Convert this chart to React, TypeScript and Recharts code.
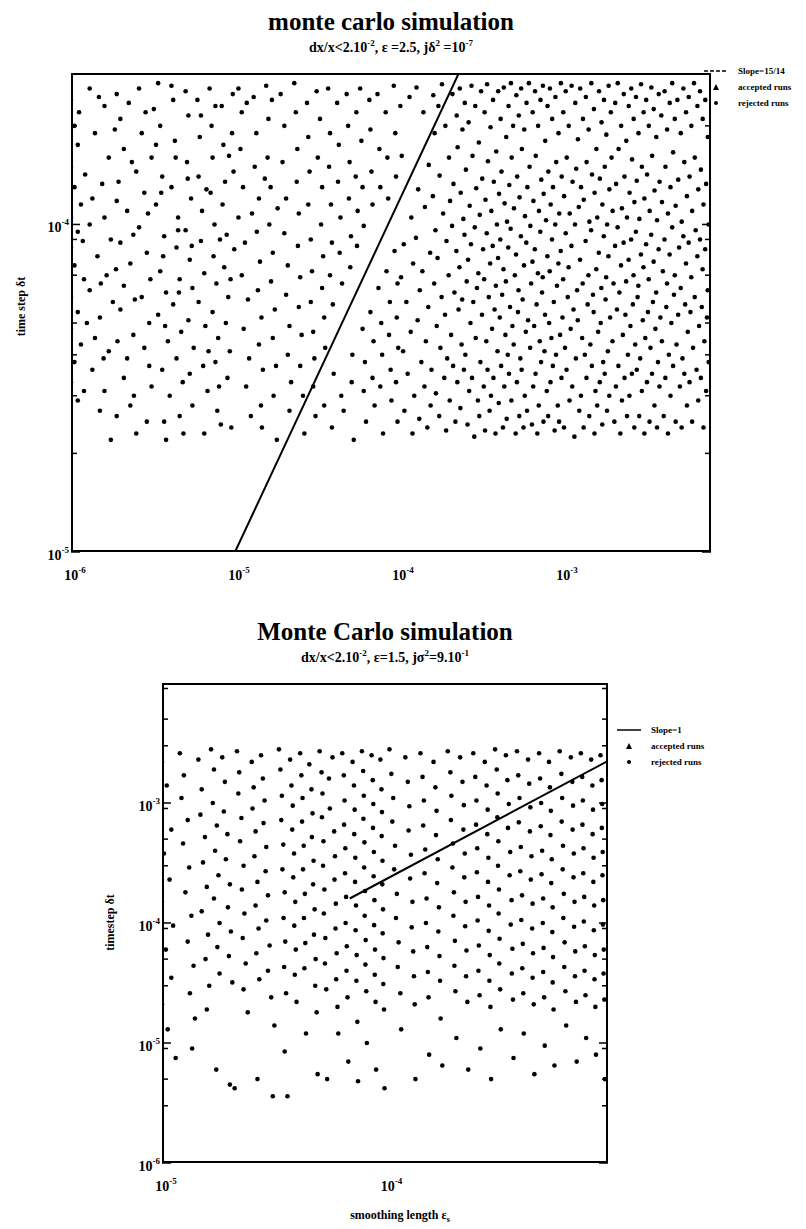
import React from "react";
import { ScatterChart, Scatter, XAxis, YAxis } from "recharts";

const serif = "'Liberation Serif', 'Times New Roman', serif";

// ---------- upper panel ----------
const topXTicks = [1e-6, 1e-5, 1e-4, 1e-3];
const topYTicks = [1e-5, 1e-4];
const topXDomain = [1e-6, 8e-3];
const topYDomain = [1e-5, 2.9e-4];
const topSlopeLine = [
  [1e-5, 1e-5],
  [2.32e-4, 2.9e-4],
];
const topRunsLeft = [
  [1.0e-6,2.4e-4],[1.05e-6,2.0e-4],[1.1e-6,1.75e-4],[1.0e-6,1.5e-4],[1.05e-6,1.3e-4],[1.15e-6,1.15e-4],[1.0e-6,1.05e-4],[1.1e-6,9.5e-5],[1.0e-6,8.5e-5],[1.05e-6,7.5e-5],[1.2e-6,6.8e-5],[1.0e-6,6.0e-5],[1.1e-6,5.4e-5],[1.0e-6,4.8e-5],[1.15e-6,4.3e-5],[1.05e-6,3.8e-5],[1.0e-6,3.3e-5],[1.1e-6,2.9e-5],[1.3e-6,2.6e-4],[1.4e-6,1.9e-4],[1.35e-6,1.2e-4],[1.3e-6,1.0e-4],[1.45e-6,8.0e-5],[1.3e-6,6.3e-5],[1.5e-6,5.2e-5],[1.4e-6,4.5e-5],[1.35e-6,3.6e-5],[1.5e-6,2.7e-5],[1.6e-6,2.3e-4],[1.7e-6,1.6e-4],[1.6e-6,1.05e-4],[1.75e-6,9.0e-5],[1.65e-6,7.0e-5],[1.8e-6,5.8e-5],[1.7e-6,4.1e-5],[1.6e-6,3.1e-5],[1.75e-6,2.2e-5],
  [1.12e-6,2.2e-4],[1.22e-6,1.42e-4],[1.18e-6,8.9e-5],[1.25e-6,5.0e-5],[1.2e-6,3.1e-5],[1.48e-6,2.45e-4],[1.55e-6,1.33e-4],[1.52e-6,6.6e-5],[1.58e-6,3.9e-5],[1.85e-6,1.95e-4],[1.9e-6,1.18e-4],[1.88e-6,7.3e-5],[1.92e-6,4.4e-5],[1.9e-6,2.6e-5],
  [1.9e-6,2.5e-4],[2.0e-6,2.1e-4],[2.1e-6,1.7e-4],[1.95e-6,1.35e-4],[2.2e-6,1.1e-4],[2.0e-6,8.8e-5],[2.3e-6,7.6e-5],[2.1e-6,6.5e-5],[2.0e-6,5.5e-5],[2.4e-6,4.6e-5],[2.2e-6,3.9e-5],[2.1e-6,3.4e-5],[2.3e-6,2.8e-5],[2.5e-6,2.3e-5],[2.6e-6,2.6e-4],[2.7e-6,1.9e-4],[2.5e-6,1.45e-4],[2.8e-6,1.25e-4],[2.6e-6,9.8e-5],[2.9e-6,8.2e-5],[2.7e-6,6.0e-5],[3.0e-6,5.0e-5],[2.8e-6,4.2e-5],[3.1e-6,3.2e-5],[2.9e-6,2.5e-5],[3.2e-6,2.25e-4],[3.1e-6,1.6e-4],
  [2.25e-6,2.35e-4],[2.35e-6,1.55e-4],[2.4e-6,9.3e-5],[2.45e-6,5.9e-5],[2.42e-6,3.0e-5],[2.85e-6,2.2e-4],[2.95e-6,1.08e-4],[3.05e-6,6.8e-5],[3.0e-6,3.7e-5],
  [3.4e-6,2.7e-4],[3.5e-6,2.0e-4],[3.6e-6,1.4e-4],[3.3e-6,1.15e-4],[3.7e-6,9.2e-5],[3.5e-6,7.2e-5],[3.8e-6,6.2e-5],[3.4e-6,5.3e-5],[3.9e-6,4.4e-5],[3.6e-6,3.6e-5],[4.0e-6,3.0e-5],[3.8e-6,2.2e-5],[4.2e-6,2.4e-4],[4.3e-6,1.8e-4],[4.1e-6,1.3e-4],[4.5e-6,1.05e-4],[4.4e-6,8.5e-5],[4.6e-6,6.8e-5],[4.2e-6,5.7e-5],[4.7e-6,4.7e-5],[4.4e-6,3.9e-5],[4.8e-6,3.3e-5],[4.6e-6,2.6e-5],[5.0e-6,2.55e-4],[5.2e-6,2.15e-4],[5.1e-6,1.55e-4],[5.4e-6,1.2e-4],[5.0e-6,9.6e-5],[5.3e-6,7.8e-5],[5.5e-6,6.4e-5],[5.2e-6,5.1e-5],[5.6e-6,4.2e-5],[5.3e-6,3.5e-5],[5.5e-6,2.8e-5],
  [3.3e-6,1.75e-4],[3.55e-6,1.25e-4],[3.65e-6,8.0e-5],[3.75e-6,4.9e-5],[3.7e-6,2.5e-5],[4.1e-6,2.65e-4],[4.35e-6,1.6e-4],[4.5e-6,9.6e-5],[4.55e-6,6.2e-5],[4.85e-6,2.3e-5],[5.15e-6,1.38e-4],[5.45e-6,8.6e-5],
  [5.9e-6,2.4e-4],[6.1e-6,1.85e-4],[6.0e-6,1.4e-4],[6.3e-6,1.1e-4],[6.2e-6,8.9e-5],[6.5e-6,7.1e-5],[6.0e-6,5.8e-5],[6.6e-6,4.9e-5],[6.4e-6,3.7e-5],[6.8e-6,3.1e-5],[6.5e-6,2.3e-5],[7.0e-6,2.6e-4],[7.2e-6,2.0e-4],[7.3e-6,1.6e-4],[7.1e-6,1.25e-4],[7.5e-6,1.0e-4],[7.4e-6,8.0e-5],[7.7e-6,6.6e-5],[7.3e-6,5.4e-5],[7.9e-6,4.5e-5],[7.6e-6,3.8e-5],[8.0e-6,3.2e-5],[7.8e-6,2.7e-5],[8.3e-6,2.3e-4],[8.5e-6,1.75e-4],[8.7e-6,1.35e-4],[8.4e-6,1.15e-4],[8.9e-6,9.3e-5],[8.6e-6,7.4e-5],[9.1e-6,6.0e-5],[8.8e-6,5.0e-5],[9.3e-6,4.1e-5],[9.0e-6,3.4e-5],[9.5e-6,2.4e-5],[9.7e-6,2.5e-4],[9.6e-6,1.9e-4],[9.8e-6,1.45e-4],[9.9e-6,8.4e-5],
  [6.2e-6,2.15e-4],[6.7e-6,1.28e-4],[6.9e-6,4.1e-5],[7.6e-6,2.3e-4],[8.1e-6,9.0e-5],[8.2e-6,2.45e-5],[9.2e-6,1.62e-4],[9.4e-6,6.8e-5],
  [1.05e-5,2.6e-4],[1.1e-5,2.2e-4],[1.08e-5,1.7e-4],[1.12e-5,1.3e-4],[1.05e-5,1.05e-4],[1.15e-5,8.8e-5],[1.1e-5,7.0e-5],[1.2e-5,5.9e-5],[1.13e-5,4.8e-5],[1.22e-5,3.9e-5],[1.17e-5,3.2e-5],[1.25e-5,2.6e-5],[1.3e-5,2.45e-4],[1.35e-5,1.9e-4],[1.32e-5,1.5e-4],[1.4e-5,1.2e-4],[1.36e-5,9.5e-5],[1.42e-5,7.7e-5],[1.38e-5,6.3e-5],[1.45e-5,5.2e-5],[1.4e-5,4.3e-5],[1.48e-5,3.6e-5],[1.44e-5,2.8e-5],[1.55e-5,2.65e-4],[1.6e-5,2.1e-4],[1.58e-5,1.6e-4],[1.65e-5,1.3e-4],[1.62e-5,1.0e-4],[1.7e-5,8.2e-5],[1.66e-5,6.7e-5],[1.75e-5,5.5e-5],[1.7e-5,4.5e-5],[1.78e-5,3.7e-5],[1.72e-5,3.0e-5],[1.8e-5,2.2e-5],
  [1.18e-5,2.35e-4],[1.27e-5,1.08e-4],[1.46e-5,2.4e-5],[1.52e-5,1.38e-4],[1.68e-5,2.4e-4],[1.82e-5,1.12e-4],
  [1.9e-5,2.5e-4],[2.0e-5,2.0e-4],[1.95e-5,1.55e-4],[2.05e-5,1.2e-4],[2.0e-5,9.4e-5],[2.1e-5,7.5e-5],[2.05e-5,6.1e-5],[2.15e-5,4.9e-5],[2.1e-5,4.0e-5],[2.2e-5,3.3e-5],[2.15e-5,2.7e-5],[2.3e-5,2.7e-4],[2.35e-5,2.2e-4],[2.4e-5,1.7e-4],[2.38e-5,1.35e-4],[2.45e-5,1.08e-4],[2.42e-5,8.6e-5],[2.5e-5,6.9e-5],[2.45e-5,5.6e-5],[2.55e-5,4.6e-5],[2.5e-5,3.7e-5],[2.6e-5,3.0e-5],[2.65e-5,2.3e-5],[2.75e-5,2.35e-4],[2.8e-5,1.85e-4],[2.85e-5,1.45e-4],[2.8e-5,1.15e-4],[2.9e-5,9.0e-5],[2.95e-5,7.2e-5],[2.9e-5,5.8e-5],[3.0e-5,4.7e-5],[3.05e-5,3.9e-5],[3.0e-5,3.2e-5],[3.1e-5,2.6e-5],[3.15e-5,2.55e-4],[3.2e-5,1.6e-4],
  [3.3e-5,2.1e-4],[3.4e-5,1.3e-4],[3.35e-5,1.0e-4],[3.45e-5,8.0e-5],[3.4e-5,6.4e-5],[3.5e-5,5.2e-5],[3.55e-5,4.2e-5],[3.5e-5,2.8e-5],[3.7e-5,2.6e-4],[3.8e-5,1.9e-4],[3.75e-5,1.5e-4],[3.85e-5,1.15e-4],[3.9e-5,8.8e-5],[3.8e-5,7.0e-5],[3.95e-5,5.7e-5],[4.0e-5,3.5e-5],[3.9e-5,2.4e-5],[4.2e-5,2.35e-4],[4.3e-5,1.75e-4],[4.25e-5,1.35e-4],[4.4e-5,1.05e-4],[4.35e-5,8.2e-5],[4.5e-5,6.6e-5],[4.45e-5,3.0e-5],[4.6e-5,2.7e-5],[4.8e-5,2.5e-4],[4.9e-5,2.0e-4],[5.0e-5,1.55e-4],[4.95e-5,1.2e-4],[5.1e-5,9.2e-5],[5.05e-5,7.4e-5],[5.2e-5,4.0e-5],[5.15e-5,3.3e-5],[5.3e-5,2.2e-5],[5.5e-5,2.2e-4],[5.45e-5,1.4e-4],[5.6e-5,1.1e-4],[5.55e-5,8.6e-5],
  [5.8e-5,2.6e-4],[5.9e-5,1.8e-4],[6.0e-5,1.3e-4],[6.1e-5,9.9e-5],[6.0e-5,4.8e-5],[6.2e-5,3.8e-5],[6.1e-5,3.1e-5],[6.3e-5,2.5e-5],[6.6e-5,2.4e-4],[6.7e-5,1.95e-4],[6.8e-5,1.45e-4],[6.9e-5,1.15e-4],[6.7e-5,5.4e-5],[7.0e-5,4.4e-5],[6.9e-5,3.4e-5],[7.1e-5,2.8e-5],[7.4e-5,2.5e-4],[7.6e-5,1.7e-4],[7.7e-5,1.3e-4],[7.5e-5,6.4e-5],[7.8e-5,5.0e-5],[7.9e-5,4.0e-5],[7.7e-5,3.2e-5],[8.0e-5,2.3e-5],[8.3e-5,2.2e-4],[8.5e-5,1.6e-4],[8.6e-5,1.2e-4],[8.4e-5,7.2e-5],[8.8e-5,5.8e-5],[8.7e-5,4.6e-5],[8.9e-5,3.6e-5],[9.0e-5,2.9e-5],[9.3e-5,2.65e-4],[9.5e-5,1.9e-4],[9.6e-5,1.4e-4],[9.4e-5,8.3e-5],[9.8e-5,6.6e-5],[9.7e-5,5.2e-5],[9.9e-5,4.2e-5],[9.6e-5,3.3e-5],[9.8e-5,2.5e-5],
];
const topRunsRight = [
  [1.02e-4,2.3e-4],[1.04e-4,1.62e-4],[1.07e-4,8.7e-5],[1.03e-4,6.9e-5],[1.11e-4,5.8e-5],[1.06e-4,4.1e-5],[1.13e-4,3.5e-5],[1.08e-4,2.7e-5],[1.16e-4,2.45e-4],[1.19e-4,1.05e-4],[1.22e-4,7.6e-5],[1.18e-4,4.7e-5],[1.24e-4,3.0e-5],[1.21e-4,2.3e-5],
  [1.28e-4,2.62e-4],[1.31e-4,1.28e-4],[1.27e-4,9.1e-5],[1.34e-4,6.3e-5],[1.3e-4,5.1e-5],[1.37e-4,3.8e-5],[1.33e-4,2.55e-5],[1.41e-4,2.2e-4],[1.44e-4,1.13e-4],[1.39e-4,7.2e-5],[1.46e-4,4.4e-5],[1.43e-4,3.2e-5],[1.49e-4,2.4e-5],[1.52e-4,1.52e-4],[1.55e-4,8.2e-5],[1.51e-4,5.6e-5],[1.58e-4,3.6e-5],[1.56e-4,2.8e-5],
  [1.62e-4,2.48e-4],[1.65e-4,1.9e-4],[1.61e-4,1.22e-4],[1.67e-4,9.6e-5],[1.64e-4,6.6e-5],[1.7e-4,4.9e-5],[1.68e-4,3.05e-5],[1.74e-4,2.3e-4],[1.77e-4,1.41e-4],[1.72e-4,7.9e-5],[1.79e-4,4.2e-5],[1.76e-4,2.6e-5],[1.83e-4,2.68e-4],[1.86e-4,1.08e-4],[1.82e-4,6.0e-5],[1.89e-4,3.4e-5],[1.92e-4,2.0e-4],[1.95e-4,8.9e-5],[1.91e-4,5.3e-5],[1.97e-4,3.9e-5],[1.94e-4,2.35e-5],
  [2.02e-4,1.6e-4],[2.05e-4,1.18e-4],[2.01e-4,7.0e-5],[2.08e-4,4.6e-5],[2.04e-4,2.9e-5],[2.12e-4,2.5e-4],[2.15e-4,1.33e-4],[2.11e-4,9.9e-5],[2.18e-4,6.2e-5],[2.14e-4,3.7e-5],[2.21e-4,2.5e-5],[2.25e-4,2.15e-4],[2.28e-4,1.72e-4],[2.24e-4,8.3e-5],[2.31e-4,5.5e-5],[2.27e-4,3.3e-5],[2.35e-4,2.6e-4],[2.38e-4,1.25e-4],[2.34e-4,7.4e-5],[2.41e-4,4.3e-5],[2.37e-4,2.75e-5],[2.44e-4,1.95e-4],[2.47e-4,1.04e-4],[2.43e-4,5.9e-5],[2.49e-4,3.6e-5],
  [2.52e-4,2.35e-4],[2.56e-4,1.47e-4],[2.51e-4,9.3e-5],[2.59e-4,6.7e-5],[2.54e-4,4.0e-5],[2.62e-4,2.45e-5],[2.66e-4,2.05e-4],[2.7e-4,1.14e-4],[2.64e-4,7.8e-5],[2.73e-4,5.0e-5],[2.68e-4,3.1e-5],[2.77e-4,2.65e-4],[2.81e-4,1.62e-4],[2.75e-4,8.7e-5],[2.84e-4,5.8e-5],[2.79e-4,3.4e-5],[2.88e-4,2.25e-5],[2.92e-4,2.3e-4],[2.96e-4,1.29e-4],[2.9e-4,9.8e-5],[2.99e-4,6.4e-5],[2.94e-4,4.5e-5],[3.03e-4,2.9e-5],[3.07e-4,1.78e-4],[3.11e-4,1.07e-4],[3.05e-4,7.1e-5],[3.14e-4,3.8e-5],[3.09e-4,2.6e-5],[3.17e-4,2.55e-4],
  [3.22e-4,1.38e-4],[3.26e-4,8.4e-5],[3.21e-4,5.3e-5],[3.29e-4,3.2e-5],[3.33e-4,2.2e-4],[3.37e-4,1.19e-4],[3.31e-4,6.8e-5],[3.41e-4,4.4e-5],[3.35e-4,2.35e-5],[3.45e-4,2.68e-4],[3.49e-4,1.56e-4],[3.43e-4,9.4e-5],[3.53e-4,6.0e-5],[3.47e-4,3.6e-5],[3.57e-4,2.7e-5],[3.62e-4,1.98e-4],[3.66e-4,1.1e-4],[3.6e-4,7.6e-5],[3.7e-4,4.8e-5],[3.64e-4,3.0e-5],[3.75e-4,2.4e-4],[3.79e-4,1.35e-4],[3.73e-4,8.6e-5],[3.83e-4,5.5e-5],[3.77e-4,3.4e-5],[3.88e-4,2.3e-5],[3.92e-4,1.67e-4],[3.96e-4,1.0e-4],[3.9e-4,6.5e-5],[3.99e-4,4.1e-5],
  [4.03e-4,2.55e-4],[4.08e-4,1.24e-4],[4.02e-4,7.9e-5],[4.12e-4,5.2e-5],[4.06e-4,2.85e-5],[4.17e-4,2.1e-4],[4.22e-4,1.45e-4],[4.15e-4,9.0e-5],[4.26e-4,6.1e-5],[4.2e-4,3.7e-5],[4.31e-4,2.4e-5],[4.36e-4,2.62e-4],[4.41e-4,1.16e-4],[4.34e-4,7.3e-5],[4.46e-4,4.6e-5],[4.39e-4,3.2e-5],[4.51e-4,1.85e-4],[4.56e-4,1.02e-4],[4.49e-4,6.7e-5],[4.61e-4,4.0e-5],[4.54e-4,2.55e-5],[4.66e-4,2.3e-4],[4.71e-4,1.32e-4],[4.64e-4,8.5e-5],[4.76e-4,5.6e-5],[4.69e-4,3.5e-5],[4.82e-4,2.7e-4],[4.87e-4,1.6e-4],[4.8e-4,9.7e-5],[4.92e-4,4.9e-5],[4.85e-4,2.9e-5],[4.97e-4,2.0e-4],
  [5.03e-4,1.12e-4],[5.09e-4,7.0e-5],[5.01e-4,4.3e-5],[5.15e-4,2.3e-5],[5.2e-4,2.48e-4],[5.26e-4,1.4e-4],[5.18e-4,8.1e-5],[5.32e-4,5.4e-5],[5.24e-4,3.3e-5],[5.38e-4,2.15e-4],[5.44e-4,1.21e-4],[5.36e-4,6.3e-5],[5.5e-4,3.9e-5],[5.42e-4,2.6e-5],[5.56e-4,2.6e-4],[5.62e-4,1.7e-4],[5.54e-4,9.2e-5],[5.68e-4,5.9e-5],[5.6e-4,3.6e-5],[5.75e-4,2.4e-5],[5.81e-4,1.95e-4],[5.87e-4,1.06e-4],[5.79e-4,7.5e-5],[5.94e-4,4.7e-5],[5.85e-4,3.0e-5],[6.0e-4,2.35e-4],[6.07e-4,1.3e-4],[5.98e-4,8.8e-5],[6.13e-4,5.1e-5],[6.04e-4,2.7e-5],[6.2e-4,2.7e-4],[6.26e-4,1.5e-4],
  [6.33e-4,9.9e-5],[6.4e-4,6.6e-5],[6.31e-4,4.2e-5],[6.47e-4,2.45e-5],[6.54e-4,2.2e-4],[6.61e-4,1.18e-4],[6.52e-4,7.7e-5],[6.68e-4,4.9e-5],[6.59e-4,3.2e-5],[6.76e-4,2.55e-4],[6.83e-4,1.62e-4],[6.74e-4,8.4e-5],[6.91e-4,5.7e-5],[6.81e-4,3.5e-5],[6.98e-4,2.3e-5],[7.06e-4,2.0e-4],[7.14e-4,1.1e-4],[7.04e-4,7.1e-5],[7.22e-4,4.4e-5],[7.12e-4,2.8e-5],[7.3e-4,2.4e-4],[7.38e-4,1.37e-4],[7.28e-4,9.5e-5],[7.46e-4,6.2e-5],[7.36e-4,3.8e-5],[7.55e-4,2.65e-4],[7.63e-4,1.24e-4],[7.53e-4,6.9e-5],[7.72e-4,4.1e-5],[7.61e-4,2.5e-5],[7.8e-4,1.8e-4],[7.89e-4,1.03e-4],[7.78e-4,5.3e-5],[7.97e-4,3.1e-5],
  [8.06e-4,2.3e-4],[8.15e-4,1.45e-4],[8.04e-4,8.0e-5],[8.24e-4,5.0e-5],[8.13e-4,2.6e-5],[8.33e-4,2.6e-4],[8.42e-4,1.15e-4],[8.31e-4,7.2e-5],[8.51e-4,4.5e-5],[8.4e-4,3.3e-5],[8.6e-4,2.1e-4],[8.7e-4,1.3e-4],[8.58e-4,9.0e-5],[8.8e-4,5.8e-5],[8.68e-4,3.7e-5],[8.9e-4,2.35e-5],[9.0e-4,2.45e-4],[9.1e-4,1.55e-4],[8.98e-4,1.0e-4],[9.2e-4,6.5e-5],[9.08e-4,4.0e-5],[9.3e-4,2.8e-5],[9.4e-4,1.9e-4],[9.5e-4,1.08e-4],[9.38e-4,7.6e-5],[9.61e-4,4.6e-5],[9.48e-4,2.5e-5],[9.72e-4,2.7e-4],[9.83e-4,1.4e-4],[9.7e-4,8.3e-5],[9.94e-4,5.2e-5],[9.8e-4,3.4e-5],
  [1.005e-3,2.2e-4],[1.017e-3,1.22e-4],[1.003e-3,6.8e-5],[1.03e-3,4.2e-5],[1.015e-3,2.4e-5],[1.04e-3,2.55e-4],[1.055e-3,1.6e-4],[1.04e-3,9.4e-5],[1.07e-3,6.0e-5],[1.052e-3,3.6e-5],[1.085e-3,2.0e-4],[1.1e-3,1.08e-4],[1.083e-3,7.4e-5],[1.115e-3,4.8e-5],[1.097e-3,2.9e-5],[1.13e-3,2.65e-4],[1.145e-3,1.35e-4],[1.128e-3,8.6e-5],[1.16e-3,5.5e-5],[1.14e-3,3.2e-5],[1.175e-3,2.25e-5],[1.19e-3,2.35e-4],[1.205e-3,1.48e-4],[1.185e-3,1.0e-4],[1.22e-3,6.3e-5],[1.2e-3,3.9e-5],[1.235e-3,1.82e-4],[1.25e-3,1.13e-4],[1.232e-3,5.1e-5],[1.258e-3,2.7e-5],
  [1.275e-3,2.6e-4],[1.29e-3,1.3e-4],[1.272e-3,7.8e-5],[1.31e-3,4.5e-5],[1.288e-3,3.0e-5],[1.325e-3,2.1e-4],[1.34e-3,1.19e-4],[1.32e-3,6.6e-5],[1.36e-3,4.0e-5],[1.338e-3,2.4e-5],[1.38e-3,2.45e-4],[1.395e-3,1.55e-4],[1.375e-3,8.9e-5],[1.415e-3,5.7e-5],[1.392e-3,3.4e-5],[1.435e-3,1.95e-4],[1.45e-3,1.02e-4],[1.43e-3,7.0e-5],[1.47e-3,4.3e-5],[1.448e-3,2.6e-5],[1.49e-3,2.7e-4],[1.505e-3,1.42e-4],[1.485e-3,9.6e-5],[1.525e-3,6.1e-5],[1.502e-3,3.7e-5],[1.545e-3,2.25e-4],[1.56e-3,1.25e-4],[1.54e-3,5.4e-5],[1.58e-3,3.1e-5],[1.558e-3,2.3e-5],
  [1.6e-3,1.7e-4],[1.62e-3,1.05e-4],[1.598e-3,7.3e-5],[1.64e-3,4.7e-5],[1.618e-3,2.8e-5],[1.66e-3,2.55e-4],[1.68e-3,1.38e-4],[1.655e-3,8.2e-5],[1.7e-3,5.0e-5],[1.678e-3,3.3e-5],[1.72e-3,2.05e-4],[1.74e-3,1.15e-4],[1.715e-3,6.4e-5],[1.76e-3,3.8e-5],[1.738e-3,2.45e-5],[1.78e-3,2.4e-4],[1.8e-3,1.5e-4],[1.775e-3,9.2e-5],[1.82e-3,5.9e-5],[1.798e-3,3.5e-5],[1.84e-3,1.88e-4],[1.86e-3,1.0e-4],[1.835e-3,6.9e-5],[1.88e-3,4.1e-5],[1.858e-3,2.7e-5],[1.9e-3,2.65e-4],[1.92e-3,1.28e-4],[1.895e-3,8.0e-5],[1.94e-3,5.2e-5],[1.918e-3,3.0e-5],[1.96e-3,2.2e-4],[1.98e-3,1.6e-4],
  [2.01e-3,1.1e-4],[2.035e-3,6.6e-5],[2.005e-3,4.4e-5],[2.06e-3,2.5e-5],[2.085e-3,2.35e-4],[2.11e-3,1.33e-4],[2.08e-3,8.6e-5],[2.135e-3,5.5e-5],[2.105e-3,3.2e-5],[2.16e-3,2.7e-4],[2.185e-3,1.7e-4],[2.155e-3,9.8e-5],[2.21e-3,6.2e-5],[2.18e-3,3.7e-5],[2.24e-3,2.3e-5],[2.265e-3,2.0e-4],[2.29e-3,1.12e-4],[2.26e-3,7.5e-5],[2.32e-3,4.6e-5],[2.29e-3,2.9e-5],[2.35e-3,2.5e-4],[2.375e-3,1.4e-4],[2.345e-3,8.8e-5],[2.405e-3,5.3e-5],[2.375e-3,3.4e-5],[2.435e-3,1.8e-4],[2.46e-3,1.05e-4],[2.43e-3,6.7e-5],[2.49e-3,4.0e-5],[2.46e-3,2.6e-5],
  [2.52e-3,2.3e-4],[2.55e-3,1.25e-4],[2.515e-3,7.8e-5],[2.58e-3,4.9e-5],[2.545e-3,3.0e-5],[2.61e-3,2.6e-4],[2.64e-3,1.58e-4],[2.605e-3,9.0e-5],[2.67e-3,5.7e-5],[2.635e-3,3.5e-5],[2.7e-3,2.1e-4],[2.73e-3,1.17e-4],[2.695e-3,7.0e-5],[2.76e-3,4.3e-5],[2.725e-3,2.4e-5],[2.79e-3,2.45e-4],[2.82e-3,1.36e-4],[2.785e-3,9.5e-5],[2.855e-3,6.0e-5],[2.82e-3,3.6e-5],[2.89e-3,1.9e-4],[2.925e-3,1.04e-4],[2.885e-3,6.5e-5],[2.96e-3,3.9e-5],[2.92e-3,2.6e-5],[2.995e-3,2.68e-4],[3.03e-3,1.5e-4],[2.99e-3,8.1e-5],[3.07e-3,5.1e-5],[3.03e-3,3.1e-5],[3.105e-3,2.2e-4],[3.14e-3,1.2e-4],[3.1e-3,7.4e-5],[3.18e-3,4.5e-5],[3.14e-3,2.3e-5],
  [3.22e-3,2.4e-4],[3.26e-3,1.42e-4],[3.215e-3,8.7e-5],[3.3e-3,5.4e-5],[3.255e-3,3.3e-5],[3.34e-3,2.0e-4],[3.38e-3,1.1e-4],[3.335e-3,6.8e-5],[3.42e-3,4.2e-5],[3.375e-3,2.5e-5],[3.46e-3,2.62e-4],[3.5e-3,1.62e-4],[3.455e-3,9.3e-5],[3.54e-3,5.8e-5],[3.495e-3,3.5e-5],[3.58e-3,2.25e-4],[3.62e-3,1.27e-4],[3.575e-3,7.7e-5],[3.665e-3,4.8e-5],[3.615e-3,2.8e-5],[3.71e-3,1.85e-4],[3.75e-3,1.03e-4],[3.705e-3,6.2e-5],[3.8e-3,3.8e-5],[3.75e-3,2.4e-5],[3.84e-3,2.5e-4],[3.885e-3,1.35e-4],[3.835e-3,8.4e-5],[3.93e-3,5.2e-5],[3.88e-3,3.2e-5],[3.98e-3,2.15e-4],
  [4.02e-3,1.17e-4],[4.07e-3,7.2e-5],[4.015e-3,4.4e-5],[4.12e-3,2.6e-5],[4.17e-3,2.55e-4],[4.22e-3,1.5e-4],[4.165e-3,9.0e-5],[4.27e-3,5.6e-5],[4.215e-3,3.4e-5],[4.32e-3,1.95e-4],[4.37e-3,1.08e-4],[4.315e-3,6.6e-5],[4.425e-3,4.0e-5],[4.37e-3,2.3e-5],[4.48e-3,2.35e-4],[4.53e-3,1.3e-4],[4.475e-3,8.1e-5],[4.585e-3,5.0e-5],[4.53e-3,3.0e-5],[4.64e-3,2.7e-4],[4.7e-3,1.66e-4],[4.64e-3,9.8e-5],[4.755e-3,6.1e-5],[4.7e-3,3.7e-5],[4.81e-3,2.1e-4],[4.87e-3,1.14e-4],[4.81e-3,7.0e-5],[4.93e-3,4.3e-5],[4.87e-3,2.5e-5],[4.99e-3,2.4e-4],
  [5.05e-3,1.37e-4],[5.11e-3,8.5e-5],[5.045e-3,5.3e-5],[5.17e-3,3.2e-5],[5.235e-3,1.9e-4],[5.3e-3,1.02e-4],[5.23e-3,6.4e-5],[5.36e-3,3.9e-5],[5.295e-3,2.4e-5],[5.43e-3,2.6e-4],[5.5e-3,1.55e-4],[5.425e-3,9.2e-5],[5.565e-3,5.7e-5],[5.5e-3,3.5e-5],[5.635e-3,2.2e-4],[5.705e-3,1.22e-4],[5.63e-3,7.6e-5],[5.775e-3,4.7e-5],[5.705e-3,2.8e-5],[5.85e-3,2.45e-4],[5.92e-3,1.4e-4],[5.845e-3,8.8e-5],[5.995e-3,5.4e-5],[5.92e-3,3.3e-5],[6.07e-3,2.0e-4],[6.14e-3,1.1e-4],[6.065e-3,6.9e-5],[6.22e-3,4.2e-5],[6.14e-3,2.5e-5],[6.3e-3,2.7e-4],
  [6.37e-3,1.6e-4],[6.45e-3,9.6e-5],[6.365e-3,6.0e-5],[6.53e-3,3.6e-5],[6.61e-3,2.3e-4],[6.69e-3,1.28e-4],[6.605e-3,8.0e-5],[6.77e-3,4.9e-5],[6.69e-3,2.9e-5],[6.86e-3,2.55e-4],[6.94e-3,1.47e-4],[6.855e-3,9.0e-5],[7.03e-3,5.6e-5],[6.94e-3,3.4e-5],[7.12e-3,2.1e-4],[7.2e-3,1.15e-4],[7.11e-3,7.3e-5],[7.29e-3,4.4e-5],[7.2e-3,2.4e-5],[7.38e-3,2.4e-4],[7.47e-3,1.33e-4],[7.37e-3,8.4e-5],[7.56e-3,5.2e-5],[7.47e-3,3.1e-5],[7.65e-3,1.85e-4],[7.74e-3,1.0e-4],[7.64e-3,6.3e-5],[7.74e-3,3.8e-5],
];

// ---------- lower panel ----------
const botXTicks = [1e-5, 1e-4];
const botYTicks = [1e-6, 1e-5, 1e-4, 1e-3];
const botXDomain = [1e-5, 9.5e-4];
const botYDomain = [1e-6, 1e-2];
const botSlopeLine = [
  [6.8e-5, 1.6e-4],
  [9.5e-4, 2.24e-3],
];
const botRuns = [
  [1.0e-5,2.2e-3],[1.05e-5,1.4e-3],[1.0e-5,9.0e-4],[1.1e-5,6.0e-4],[1.02e-5,3.8e-4],[1.08e-5,2.3e-4],[1.0e-5,1.5e-4],[1.12e-5,9.5e-5],[1.04e-5,6.0e-5],[1.1e-5,3.5e-5],[1.0e-5,2.1e-5],[1.06e-5,1.3e-5],[1.15e-5,7.5e-6],[1.2e-5,2.6e-3],[1.25e-5,1.7e-3],[1.22e-5,1.1e-3],[1.3e-5,7.2e-4],[1.24e-5,4.6e-4],[1.32e-5,2.9e-4],[1.27e-5,1.8e-4],[1.35e-5,1.15e-4],[1.3e-5,7.0e-5],[1.38e-5,4.4e-5],[1.33e-5,2.6e-5],[1.4e-5,1.6e-5],[1.36e-5,9.0e-6],[1.45e-5,2.3e-3],[1.5e-5,1.3e-3],[1.48e-5,8.0e-4],[1.55e-5,5.2e-4],[1.52e-5,3.2e-4],[1.58e-5,2.0e-4],[1.5e-5,1.25e-4],[1.6e-5,8.0e-5],[1.56e-5,5.0e-5],[1.62e-5,3.0e-5],[1.58e-5,1.9e-5],[1.65e-5,2.8e-3],[1.7e-5,1.9e-3],[1.68e-5,1.0e-3],[1.75e-5,6.5e-4],[1.72e-5,4.0e-4],[1.78e-5,2.5e-4],[1.7e-5,1.6e-4],[1.8e-5,1.0e-4],[1.76e-5,6.3e-5],[1.8e-5,3.8e-5],[1.74e-5,6.0e-6],
  [1.85e-5,2.4e-3],[1.9e-5,1.5e-3],[1.88e-5,8.5e-4],[1.95e-5,5.5e-4],[1.92e-5,3.4e-4],[2.0e-5,2.1e-4],[1.96e-5,1.35e-4],[2.02e-5,8.5e-5],[1.98e-5,5.3e-5],[2.05e-5,3.2e-5],[2.0e-5,4.5e-6],[2.1e-5,4.2e-6],[2.15e-5,2.7e-3],[2.2e-5,1.8e-3],[2.18e-5,1.2e-3],[2.25e-5,7.5e-4],[2.22e-5,4.8e-4],[2.3e-5,3.0e-4],[2.26e-5,1.9e-4],[2.32e-5,1.2e-4],[2.28e-5,7.5e-5],[2.35e-5,4.6e-5],[2.3e-5,2.8e-5],[2.4e-5,1.8e-5],[2.5e-5,2.2e-3],[2.55e-5,1.35e-3],[2.52e-5,9.0e-4],[2.6e-5,5.8e-4],[2.57e-5,3.6e-4],[2.65e-5,2.2e-4],[2.6e-5,1.4e-4],[2.68e-5,9.0e-5],[2.62e-5,5.6e-5],[2.7e-5,3.4e-5],[2.65e-5,5.0e-6],[2.75e-5,2.5e-3],[2.8e-5,1.6e-3],[2.85e-5,1.05e-3],[2.82e-5,6.8e-4],[2.9e-5,4.3e-4],[2.88e-5,2.7e-4],[2.95e-5,1.7e-4],[2.9e-5,1.05e-4],[3.0e-5,6.5e-5],[2.95e-5,4.0e-5],[3.05e-5,2.4e-5],[3.1e-5,3.6e-6],[3.15e-5,1.4e-5],
  [3.3e-5,2.8e-3],[3.35e-5,1.9e-3],[3.4e-5,1.15e-3],[3.38e-5,7.2e-4],[3.45e-5,4.5e-4],[3.42e-5,2.8e-4],[3.5e-5,1.8e-4],[3.46e-5,1.1e-4],[3.52e-5,7.0e-5],[3.48e-5,4.3e-5],[3.55e-5,2.6e-5],[3.5e-5,8.5e-6],[3.6e-5,3.6e-6],[3.7e-5,2.3e-3],[3.75e-5,1.4e-3],[3.8e-5,9.5e-4],[3.78e-5,6.0e-4],[3.85e-5,3.8e-4],[3.82e-5,2.4e-4],[3.9e-5,1.5e-4],[3.86e-5,9.5e-5],[3.92e-5,6.0e-5],[3.88e-5,3.7e-5],[3.95e-5,2.2e-5],[4.1e-5,2.6e-3],[4.15e-5,1.7e-3],[4.2e-5,1.1e-3],[4.18e-5,7.0e-4],[4.25e-5,4.4e-4],[4.22e-5,2.8e-4],[4.3e-5,1.75e-4],[4.26e-5,1.1e-4],[4.32e-5,6.8e-5],[4.28e-5,4.2e-5],[4.35e-5,1.2e-5],[4.5e-5,2.1e-3],[4.6e-5,1.3e-3],[4.65e-5,8.2e-4],[4.62e-5,5.2e-4],[4.7e-5,3.3e-4],[4.68e-5,2.1e-4],[4.75e-5,1.3e-4],[4.72e-5,8.0e-5],[4.8e-5,5.0e-5],[4.78e-5,3.0e-5],[4.85e-5,1.8e-5],[4.9e-5,5.5e-6],[5.0e-5,2.7e-3],[5.1e-5,1.8e-3],[5.15e-5,1.2e-3],[5.12e-5,7.6e-4],[5.2e-5,4.8e-4],[5.18e-5,3.0e-4],[5.25e-5,1.9e-4],[5.22e-5,1.2e-4],[5.3e-5,7.5e-5],[5.28e-5,4.6e-5],[5.35e-5,2.8e-5],[5.4e-5,5.0e-6],[5.5e-5,1.6e-3],[5.55e-5,9.0e-4],
  [5.7e-5,2.4e-3],[5.8e-5,5.8e-4],[5.85e-5,3.6e-4],[5.82e-5,2.3e-4],[5.9e-5,1.45e-4],[5.88e-5,9.0e-5],[5.95e-5,5.6e-5],[5.92e-5,3.4e-5],[6.0e-5,2.0e-5],[6.05e-5,1.2e-5],[6.3e-5,2.6e-3],[6.4e-5,1.7e-3],[6.45e-5,1.05e-3],[6.42e-5,6.6e-4],[6.5e-5,4.2e-4],[6.48e-5,2.6e-4],[6.55e-5,1.65e-4],[6.52e-5,1.0e-4],[6.6e-5,6.4e-5],[6.58e-5,4.0e-5],[6.65e-5,2.4e-5],[6.7e-5,7.0e-6],[7.0e-5,2.2e-3],[7.1e-5,1.4e-3],[7.15e-5,8.8e-4],[7.12e-5,5.5e-4],[7.2e-5,3.5e-4],[7.18e-5,2.2e-4],[7.25e-5,1.4e-4],[7.22e-5,8.7e-5],[7.3e-5,5.4e-5],[7.28e-5,3.3e-5],[7.35e-5,1.5e-5],[7.4e-5,4.8e-6],[7.7e-5,2.7e-3],[7.8e-5,1.85e-3],[7.85e-5,1.15e-3],[7.82e-5,7.4e-4],[7.9e-5,4.7e-4],[7.88e-5,2.9e-4],[7.95e-5,1.85e-4],[7.92e-5,1.15e-4],[8.0e-5,7.2e-5],[7.98e-5,4.5e-5],[8.05e-5,2.7e-5],[8.1e-5,1.0e-5],[8.5e-5,2.5e-3],[8.6e-5,1.55e-3],[8.65e-5,9.8e-4],[8.62e-5,6.2e-4],[8.7e-5,3.9e-4],[8.68e-5,2.45e-4],[8.75e-5,1.55e-4],[8.72e-5,9.6e-5],[8.8e-5,6.0e-5],[8.78e-5,3.7e-5],[8.85e-5,2.2e-5],[8.9e-5,6.0e-6],[9.3e-5,2.3e-3],[9.4e-5,1.3e-3],[9.45e-5,8.4e-4],[9.42e-5,5.3e-4],[9.5e-5,3.3e-4],[9.48e-5,2.1e-4],[9.55e-5,1.3e-4],[9.52e-5,8.2e-5],[9.6e-5,5.1e-5],[9.58e-5,3.1e-5],[9.65e-5,1.9e-5],[9.7e-5,4.2e-6],
  [1.02e-4,2.8e-3],[1.04e-4,1.75e-3],[1.06e-4,1.1e-3],[1.05e-4,7.0e-4],[1.08e-4,4.4e-4],[1.07e-4,2.8e-4],[1.1e-4,1.75e-4],[1.09e-4,1.1e-4],[1.12e-4,6.9e-5],[1.11e-4,4.3e-5],[1.14e-4,2.6e-5],[1.15e-4,1.3e-5],[1.2e-4,2.4e-3],[1.23e-4,1.5e-3],[1.25e-4,9.4e-4],[1.24e-4,5.9e-4],[1.27e-4,3.7e-4],[1.26e-4,2.35e-4],[1.29e-4,1.5e-4],[1.28e-4,9.2e-5],[1.3e-4,5.8e-5],[1.31e-4,3.6e-5],[1.32e-4,2.1e-5],[1.33e-4,5.0e-6],[1.4e-4,2.6e-3],[1.43e-4,1.65e-3],[1.45e-4,1.05e-3],[1.44e-4,6.5e-4],[1.47e-4,4.1e-4],[1.46e-4,2.6e-4],[1.49e-4,1.6e-4],[1.48e-4,1.0e-4],[1.5e-4,6.3e-5],[1.51e-4,3.9e-5],[1.52e-4,2.4e-5],[1.53e-4,8.0e-6],[1.6e-4,2.2e-3],[1.63e-4,1.35e-3],[1.65e-4,8.6e-4],[1.64e-4,5.4e-4],[1.67e-4,3.4e-4],[1.66e-4,2.15e-4],[1.69e-4,1.35e-4],[1.68e-4,8.5e-5],[1.7e-4,5.3e-5],[1.71e-4,3.3e-5],[1.72e-4,1.6e-5],[1.75e-4,6.5e-6],
  [1.85e-4,2.7e-3],[1.9e-4,1.8e-3],[1.92e-4,1.15e-3],[1.91e-4,7.2e-4],[1.95e-4,4.6e-4],[1.94e-4,2.9e-4],[1.97e-4,1.8e-4],[1.96e-4,1.15e-4],[1.99e-4,7.1e-5],[1.98e-4,4.4e-5],[2.0e-4,2.7e-5],[2.02e-4,1.1e-5],[2.1e-4,2.4e-3],[2.15e-4,1.5e-3],[2.18e-4,9.6e-4],[2.17e-4,6.0e-4],[2.2e-4,3.8e-4],[2.19e-4,2.4e-4],[2.22e-4,1.5e-4],[2.21e-4,9.4e-5],[2.24e-4,5.9e-5],[2.23e-4,3.6e-5],[2.26e-4,2.2e-5],[2.28e-4,6.0e-6],[2.4e-4,2.6e-3],[2.45e-4,1.65e-3],[2.48e-4,1.05e-3],[2.47e-4,6.6e-4],[2.5e-4,4.2e-4],[2.49e-4,2.65e-4],[2.52e-4,1.65e-4],[2.51e-4,1.05e-4],[2.54e-4,6.5e-5],[2.53e-4,4.0e-5],[2.56e-4,2.5e-5],[2.58e-4,9.0e-6],[2.7e-4,2.2e-3],[2.75e-4,1.4e-3],[2.78e-4,8.8e-4],[2.77e-4,5.5e-4],[2.8e-4,3.5e-4],[2.79e-4,2.2e-4],[2.82e-4,1.4e-4],[2.81e-4,8.6e-5],[2.84e-4,5.4e-5],[2.83e-4,3.3e-5],[2.86e-4,2.0e-5],[2.88e-4,5.0e-6],[3.0e-4,2.8e-3],[3.05e-4,1.9e-3],[3.08e-4,1.2e-3],[3.07e-4,7.6e-4],[3.1e-4,4.8e-4],[3.09e-4,3.0e-4],[3.12e-4,1.9e-4],[3.11e-4,1.2e-4],[3.14e-4,7.4e-5],[3.13e-4,4.6e-5],[3.16e-4,2.8e-5],[3.18e-4,1.3e-5],
  [3.35e-4,2.5e-3],[3.4e-4,1.55e-3],[3.45e-4,9.8e-4],[3.42e-4,6.2e-4],[3.5e-4,3.9e-4],[3.48e-4,2.5e-4],[3.55e-4,1.55e-4],[3.52e-4,9.7e-5],[3.58e-4,6.1e-5],[3.56e-4,3.8e-5],[3.6e-4,2.3e-5],[3.62e-4,7.5e-6],[3.75e-4,2.7e-3],[3.8e-4,1.7e-3],[3.85e-4,1.1e-3],[3.82e-4,6.9e-4],[3.9e-4,4.3e-4],[3.88e-4,2.7e-4],[3.95e-4,1.7e-4],[3.92e-4,1.06e-4],[3.98e-4,6.7e-5],[3.96e-4,4.2e-5],[4.0e-4,2.6e-5],[4.02e-4,1.2e-5],[4.2e-4,2.3e-3],[4.25e-4,1.45e-3],[4.3e-4,9.2e-4],[4.28e-4,5.8e-4],[4.35e-4,3.6e-4],[4.32e-4,2.3e-4],[4.4e-4,1.45e-4],[4.38e-4,9.0e-5],[4.42e-4,5.6e-5],[4.4e-4,3.5e-5],[4.45e-4,2.1e-5],[4.48e-4,5.5e-6],[4.7e-4,2.6e-3],[4.75e-4,1.6e-3],[4.8e-4,1.0e-3],[4.78e-4,6.4e-4],[4.85e-4,4.0e-4],[4.82e-4,2.55e-4],[4.9e-4,1.6e-4],[4.88e-4,1.0e-4],[4.92e-4,6.2e-5],[4.9e-4,3.9e-5],[4.95e-4,2.4e-5],[4.98e-4,9.5e-6],[5.2e-4,2.2e-3],[5.25e-4,1.35e-3],[5.3e-4,8.6e-4],[5.28e-4,5.4e-4],[5.35e-4,3.4e-4],[5.32e-4,2.15e-4],[5.4e-4,1.35e-4],[5.38e-4,8.4e-5],[5.42e-4,5.2e-5],[5.4e-4,3.2e-5],[5.45e-4,1.9e-5],[5.5e-4,6.5e-6],
  [5.8e-4,2.7e-3],[5.9e-4,1.75e-3],[5.95e-4,1.1e-3],[5.92e-4,7.0e-4],[6.0e-4,4.4e-4],[5.98e-4,2.8e-4],[6.05e-4,1.75e-4],[6.02e-4,1.1e-4],[6.1e-4,6.9e-5],[6.08e-4,4.3e-5],[6.15e-4,2.7e-5],[6.2e-4,1.4e-5],[6.5e-4,2.4e-3],[6.6e-4,1.5e-3],[6.65e-4,9.5e-4],[6.62e-4,6.0e-4],[6.7e-4,3.8e-4],[6.68e-4,2.4e-4],[6.75e-4,1.5e-4],[6.72e-4,9.3e-5],[6.8e-4,5.8e-5],[6.78e-4,3.6e-5],[6.85e-4,2.2e-5],[6.9e-4,7.0e-6],[7.2e-4,2.6e-3],[7.3e-4,1.65e-3],[7.35e-4,1.05e-3],[7.32e-4,6.6e-4],[7.4e-4,4.2e-4],[7.38e-4,2.6e-4],[7.45e-4,1.65e-4],[7.42e-4,1.03e-4],[7.5e-4,6.4e-5],[7.48e-4,4.0e-5],[7.55e-4,2.5e-5],[7.6e-4,1.1e-5],[8.0e-4,2.3e-3],[8.1e-4,1.4e-3],[8.15e-4,8.8e-4],[8.12e-4,5.5e-4],[8.2e-4,3.5e-4],[8.18e-4,2.2e-4],[8.25e-4,1.4e-4],[8.22e-4,8.7e-5],[8.3e-4,5.4e-5],[8.28e-4,3.4e-5],[8.35e-4,2.0e-5],[8.4e-4,8.0e-6],[8.8e-4,2.5e-3],[8.9e-4,1.55e-3],[8.95e-4,9.8e-4],[8.92e-4,6.2e-4],[9.0e-4,3.9e-4],[8.98e-4,2.5e-4],[9.05e-4,1.55e-4],[9.02e-4,9.7e-5],[9.1e-4,6.0e-5],[9.08e-4,3.8e-5],[9.15e-4,2.3e-5],[9.2e-4,5.0e-6],
];

const mantissas = [2, 3, 4, 5, 6, 7, 8, 9];
const minorTicks = (decades: number[], max: number) =>
  decades.flatMap((d) => mantissas.map((m) => m * d)).filter((v) => v <= max);

const toPoints = (rows: number[][]) => rows.map(([x, y]) => ({ x, y }));

// split the runs by the side of the slope line they fall on
const splitRuns = (rows: number[][], line: number[][]) => {
  const [[x0, y0], [x1, y1]] = line;
  const k = Math.log10(y1 / y0) / Math.log10(x1 / x0);
  const above = (x: number, y: number) => y > y0 * Math.pow(x / x0, k);
  return {
    rejected: toPoints(rows.filter(([x, y]) => above(x, y))),
    accepted: toPoints(rows.filter(([x, y]) => !above(x, y))),
  };
};

const Dot = (p: any) => <circle cx={p.cx} cy={p.cy} r={2.3} fill="#000" />;
const NoDot = () => <g />;
const NoLabel = () => <g />;

const PowerTick = (props: any) => {
  const { x, y, payload, dx = 0, dy = 0, anchor = "middle" } = props;
  const exp = Math.round(Math.log10(payload.value));
  return (
    <text x={x + dx} y={y + dy} textAnchor={anchor} fontFamily={serif} fontWeight="bold" fontSize={14} fill="#000">
      10
      <tspan dy={-7} fontSize={9}>
        {exp}
      </tspan>
    </text>
  );
};

interface PanelProps {
  top: number;
  height: number;
  margin: { top: number; right: number; bottom: number; left: number };
  xDomain: number[];
  yDomain: number[];
  xTicks: number[];
  yTicks: number[];
  runs: number[][];
  slope: number[][];
}

const Panel = (props: PanelProps) => {
  const { xDomain, yDomain } = props;
  const xMinor = minorTicks(props.xTicks.concat([props.xTicks[props.xTicks.length - 1] * 10]), xDomain[1]);
  const yMinor = minorTicks(props.yTicks.concat([props.yTicks[props.yTicks.length - 1] * 10]), yDomain[1]);
  const { accepted, rejected } = splitRuns(props.runs, props.slope);
  const frame = { stroke: "#000", strokeWidth: 2 };
  const tickStroke = { stroke: "#000", strokeWidth: 1.5 };
  const common = { type: "number" as const, scale: "log" as const, allowDataOverflow: true };
  return (
    <div style={{ position: "absolute", left: 0, top: props.top }}>
      <ScatterChart width={806} height={props.height} margin={props.margin}>
        <XAxis
          {...common}
          xAxisId="x"
          dataKey="x"
          domain={xDomain}
          ticks={props.xTicks}
          axisLine={false}
          tickLine={false}
          tickSize={0}
          height={30}
          tick={(p: any) => <PowerTick {...p} dx={4} dy={26} />}
        />
        <YAxis
          {...common}
          yAxisId="y"
          dataKey="y"
          domain={yDomain}
          ticks={props.yTicks}
          axisLine={false}
          tickLine={false}
          tickSize={0}
          width={40}
          tick={(p: any) => <PowerTick {...p} anchor="end" dx={0} dy={8} />}
        />
        {/* frame with inward log ticks on every side */}
        <XAxis {...common} xAxisId="bMinor" orientation="bottom" mirror height={1} domain={xDomain} ticks={xMinor} axisLine={frame} tickLine={tickStroke} tickSize={5} tick={NoLabel} />
        <XAxis {...common} xAxisId="bMajor" orientation="bottom" mirror height={1} domain={xDomain} ticks={props.xTicks} axisLine={false} tickLine={tickStroke} tickSize={9} tick={NoLabel} />
        <XAxis {...common} xAxisId="tMinor" orientation="top" mirror height={1} domain={xDomain} ticks={xMinor} axisLine={frame} tickLine={tickStroke} tickSize={5} tick={NoLabel} />
        <XAxis {...common} xAxisId="tMajor" orientation="top" mirror height={1} domain={xDomain} ticks={props.xTicks} axisLine={false} tickLine={tickStroke} tickSize={9} tick={NoLabel} />
        <YAxis {...common} yAxisId="lMinor" orientation="left" mirror width={1} domain={yDomain} ticks={yMinor} axisLine={frame} tickLine={tickStroke} tickSize={5} tick={NoLabel} />
        <YAxis {...common} yAxisId="lMajor" orientation="left" mirror width={1} domain={yDomain} ticks={props.yTicks} axisLine={false} tickLine={tickStroke} tickSize={9} tick={NoLabel} />
        <YAxis {...common} yAxisId="rMinor" orientation="right" mirror width={1} domain={yDomain} ticks={yMinor} axisLine={frame} tickLine={tickStroke} tickSize={5} tick={NoLabel} />
        <YAxis {...common} yAxisId="rMajor" orientation="right" mirror width={1} domain={yDomain} ticks={props.yTicks} axisLine={false} tickLine={tickStroke} tickSize={9} tick={NoLabel} />
        <Scatter xAxisId="x" yAxisId="y" name="accepted runs" data={accepted} shape={Dot} isAnimationActive={false} />
        <Scatter xAxisId="x" yAxisId="y" name="rejected runs" data={rejected} shape={Dot} isAnimationActive={false} />
        <Scatter
          xAxisId="x"
          yAxisId="y"
          name="slope"
          data={toPoints(props.slope)}
          line={{ stroke: "#000", strokeWidth: 2 }}
          shape={NoDot}
          isAnimationActive={false}
        />
      </ScatterChart>
    </div>
  );
};

const textBold = { fontFamily: serif, fontWeight: "bold" as const, color: "#000" };

const Title = (props: { y: number; cx: number; title: string; sub: React.ReactNode }) => (
  <div style={{ position: "absolute", left: props.cx - 200, top: props.y, width: 400, textAlign: "center", ...textBold }}>
    <div style={{ fontSize: 25, lineHeight: "26px" }}>{props.title}</div>
    <div style={{ fontSize: 14, lineHeight: "16px" }}>{props.sub}</div>
  </div>
);

const LegendBox = (props: { x: number; y: number; slopeLabel: string; dashed?: boolean }) => {
  const row = { height: 16, display: "flex", alignItems: "center", fontSize: 9, whiteSpace: "nowrap" as const };
  return (
    <div style={{ position: "absolute", left: props.x, top: props.y, ...textBold }}>
      <div style={row}>
        <svg width={30} height={10}>
          <line x1={2} y1={5} x2={26} y2={5} stroke="#000" strokeWidth={1.5} strokeDasharray={props.dashed ? "4 2" : undefined} />
        </svg>
        <span style={{ marginLeft: 6 }}>{props.slopeLabel}</span>
      </div>
      <div style={row}>
        <svg width={30} height={10}>
          <polygon points="14,2 17,8 11,8" fill="#000" />
        </svg>
        <span style={{ marginLeft: 6 }}>accepted runs</span>
      </div>
      <div style={row}>
        <svg width={30} height={10}>
          <circle cx={14} cy={5} r={2} fill="#000" />
        </svg>
        <span style={{ marginLeft: 6 }}>rejected runs</span>
      </div>
    </div>
  );
};

const sup = (s: string) => <sup style={{ fontSize: 9 }}>{s}</sup>;

const App = () => {
  return (
    <div style={{ position: "absolute", left: 0, top: 0, width: 806, height: 1229, background: "#fff" }}>
      <Title
        y={9}
        cx={391}
        title="monte carlo simulation"
        sub={<span>dx/x&lt;2.10{sup("-2")}, ε =2.5, jδ{sup("2")} =10{sup("-7")}</span>}
      />
      <Panel
        top={0}
        height={600}
        margin={{ top: 73, right: 95, bottom: 18, left: 31 }}
        xDomain={topXDomain}
        yDomain={topYDomain}
        xTicks={topXTicks}
        yTicks={topYTicks}
        runs={topRunsLeft.concat(topRunsRight)}
        slope={topSlopeLine}
      />
      <div style={{ position: "absolute", left: 21 - 60, top: 307 - 8, width: 120, textAlign: "center", fontSize: 12, transform: "rotate(-90deg)", ...textBold }}>
        time step δt
      </div>
      <LegendBox x={702} y={63} slopeLabel="Slope=15/14" dashed />

      <Title
        y={619}
        cx={385}
        title="Monte Carlo simulation"
        sub={<span>dx/x&lt;2.10{sup("-2")}, ε=1.5, jσ{sup("2")}=9.10{sup("-1")}</span>}
      />
      <Panel
        top={600}
        height={629}
        margin={{ top: 83, right: 198, bottom: 36, left: 122 }}
        xDomain={botXDomain}
        yDomain={botYDomain}
        xTicks={botXTicks}
        yTicks={botYTicks}
        runs={botRuns}
        slope={botSlopeLine}
      />
      <div style={{ position: "absolute", left: 110 - 60, top: 923 - 8, width: 120, textAlign: "center", fontSize: 12, transform: "rotate(-90deg)", ...textBold }}>
        timestep δt
      </div>
      <div style={{ position: "absolute", left: 300, top: 1208, width: 200, textAlign: "center", fontSize: 12, ...textBold }}>
        smoothing length ε<sub style={{ fontSize: 8 }}>s</sub>
      </div>
      <LegendBox x={615} y={722} slopeLabel="Slope=1" />
    </div>
  );
};

export default App;
